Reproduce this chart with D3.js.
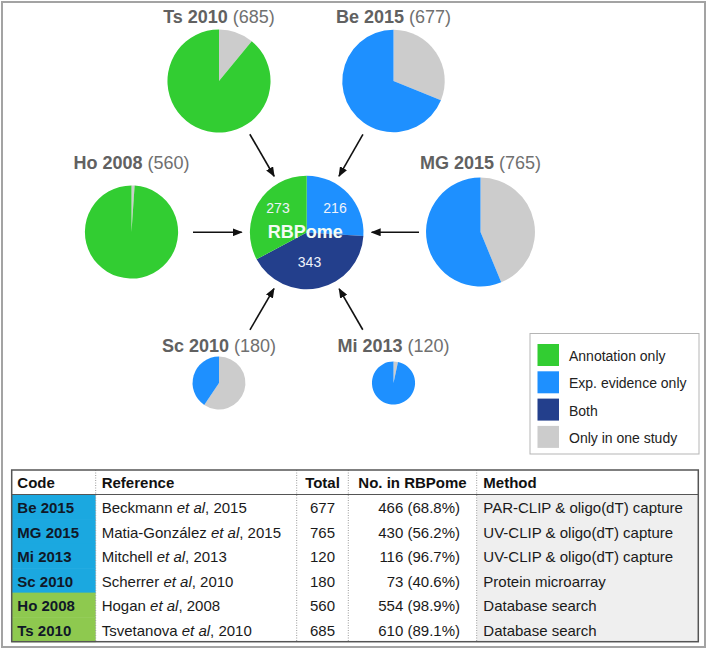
<!DOCTYPE html>
<html>
    <head>
        <meta charset="utf-8">
        <style>
            body { margin: 0; background: #fff; }
            svg { display: block; font-family: "Liberation Sans", Arial, sans-serif; }
        </style>
    </head>
    <body>
        <svg></svg>

        <script src="https://d3js.org/d3.v7.min.js"></script>

        <script>
            // study table data
            const codes = ["Be 2015", "MG 2015", "Mi 2013", "Sc 2010", "Ho 2008", "Ts 2010"];
            const authors = ["Beckmann", "Matia-González", "Mitchell", "Scherrer", "Hogan", "Tsvetanova"];
            const years = ["2015", "2015", "2013", "2010", "2008", "2010"];
            const totals = [677, 765, 120, 180, 560, 685];
            const inRBPome = [466, 430, 116, 73, 554, 610];
            const pctInRBPome = ["68.8", "56.2", "96.7", "40.6", "98.9", "89.1"];
            const methods = ["PAR-CLIP & oligo(dT) capture", "UV-CLIP & oligo(dT) capture",
                "UV-CLIP & oligo(dT) capture", "Protein microarray", "Database search", "Database search"];
            const evidence = ["exp", "exp", "exp", "exp", "annot", "annot"];

            // RBPome pie
            const hubCategories = ["Exp. evidence only", "Both", "Annotation only"];
            const hubCounts = [216, 343, 273];

            const legendLabels = ["Annotation only", "Exp. evidence only", "Both", "Only in one study"];
            const legendColors = ["#32cd32", "#1e90ff", "#233f8c", "#cccccc"];
            const headers = ["Code", "Reference", "Total", "No. in RBPome", "Method"];

            // layout (centre x, centre y, title baseline)
            const pieLayout = {
                "Ts 2010": [219, 81, 23],
                "Be 2015": [393.5, 81, 23],
                "Ho 2008": [131.5, 232, 169],
                "MG 2015": [480.5, 232, 169],
                "Sc 2010": [219, 383, 352],
                "Mi 2013": [393.5, 383, 352]
            };
            const hub = [306.7, 232.5];
            const hubLabelOffsets = [[28.3, -19.2], [2.8, 34.8], [-28.7, -19.2]];

            const width = 709, height = 650;
            const font = "'Liberation Sans', Arial, sans-serif";

            const svg = d3.select("svg")
                .attr("width", width)
                .attr("height", height);

            // outer frame
            svg.append("rect")
                .attr("x", 2).attr("y", 2)
                .attr("width", 703).attr("height", 645)
                .attr("fill", "none")
                .attr("stroke", "#a3a3a3")
                .attr("stroke-width", 2);

            const color = d3.scaleOrdinal(legendLabels, legendColors);
            const radius = d3.scaleSqrt()
                .domain([0, d3.sum(hubCounts)])
                .range([0, 56.8]);
            const pie = d3.pie().sort(null);

            // arrow marker
            svg.append("defs").append("marker")
                .attr("id", "head")
                .attr("viewBox", "0 0 10 8")
                .attr("refX", 9)
                .attr("refY", 4)
                .attr("markerUnits", "userSpaceOnUse")
                .attr("markerWidth", 10)
                .attr("markerHeight", 8)
                .attr("orient", "auto")
                .append("path")
                .attr("d", "M0,0 L10,4 L0,8 Z")
                .attr("fill", "#111");

            // arrows from each study to the hub
            codes.forEach(function(code) {
                const c = pieLayout[code];
                const dx = hub[0] - c[0], dy = hub[1] - c[1];
                const len = Math.sqrt(dx * dx + dy * dy);
                const ux = dx / len, uy = dy / len;
                svg.append("line")
                    .attr("x1", c[0] + ux * 61.5)
                    .attr("y1", c[1] + uy * 61.5)
                    .attr("x2", hub[0] - ux * 65)
                    .attr("y2", hub[1] - uy * 65)
                    .attr("stroke", "#111")
                    .attr("stroke-width", 1.6)
                    .attr("marker-end", "url(#head)");
            });

            // study pies
            const studies = codes.map(function(code, i) {
                return {
                    code: code,
                    total: totals[i],
                    values: [totals[i] - inRBPome[i], inRBPome[i]],
                    cats: ["Only in one study", evidence[i] === "annot" ? "Annotation only" : "Exp. evidence only"]
                };
            });

            const sg = svg.selectAll("g.study")
                .data(studies)
                .enter()
                .append("g")
                .attr("class", "study");

            sg.each(function(d) {
                const c = pieLayout[d.code];
                const g = d3.select(this);
                const arc = d3.arc().innerRadius(0).outerRadius(radius(d.total));
                g.append("g")
                    .attr("transform", "translate(" + c[0] + "," + c[1] + ")")
                    .selectAll("path")
                    .data(pie(d.values))
                    .enter()
                    .append("path")
                    .attr("d", arc)
                    .attr("fill", function(s, j) { return color(d.cats[j]); });

                const t = g.append("text")
                    .attr("x", c[0])
                    .attr("y", c[2])
                    .attr("text-anchor", "middle")
                    .attr("font-size", 18);
                t.append("tspan")
                    .attr("font-weight", "bold")
                    .attr("fill", "#616161")
                    .text(d.code);
                t.append("tspan")
                    .attr("fill", "#707070")
                    .text(" (" + d.total + ")");
            });

            // RBPome hub pie
            const hubArc = d3.arc().innerRadius(0).outerRadius(radius(d3.sum(hubCounts)));
            const hg = svg.append("g")
                .attr("transform", "translate(" + hub[0] + "," + hub[1] + ")");
            hg.selectAll("path")
                .data(pie(hubCounts))
                .enter()
                .append("path")
                .attr("d", hubArc)
                .attr("fill", function(d, i) { return color(hubCategories[i]); });
            hg.selectAll("text.count")
                .data(hubCounts)
                .enter()
                .append("text")
                .attr("class", "count")
                .attr("x", function(d, i) { return hubLabelOffsets[i][0]; })
                .attr("y", function(d, i) { return hubLabelOffsets[i][1]; })
                .attr("text-anchor", "middle")
                .attr("font-size", 14)
                .attr("fill", "#eef2fa")
                .text(function(d) { return d; });
            hg.append("text")
                .attr("x", -1.4)
                .attr("y", 5.8)
                .attr("text-anchor", "middle")
                .attr("font-size", 18)
                .attr("font-weight", "bold")
                .attr("fill", "#f4fbf4")
                .text("RBPome");

            // legend
            const lg = svg.append("g");
            lg.append("rect")
                .attr("x", 530).attr("y", 333.5)
                .attr("width", 169).attr("height", 120.5)
                .attr("fill", "#fff")
                .attr("stroke", "#b5b5b5")
                .attr("stroke-width", 1);
            const li = lg.selectAll("g.item")
                .data(legendLabels)
                .enter()
                .append("g")
                .attr("class", "item")
                .attr("transform", function(d, i) { return "translate(537.5," + (344 + i * 27.3) + ")"; });
            li.append("rect")
                .attr("width", 21.5)
                .attr("height", 22)
                .attr("fill", function(d) { return color(d); });
            li.append("text")
                .attr("x", 31.5)
                .attr("y", 17)
                .attr("font-size", 14)
                .attr("fill", "#222")
                .text(function(d) { return d; });

            // table
            const colEdges = [11.7, 95.7, 296.7, 348.3, 476.7, 698.3];
            const tableTop = 470, headBottom = 494.5, tableBottom = 641.7;
            const rowY = d3.scaleBand().domain(codes).range([headBottom, tableBottom]);
            const tg = svg.append("g").attr("font-size", 15);

            const rows = tg.selectAll("g.row")
                .data(codes)
                .enter()
                .append("g")
                .attr("class", "row")
                .attr("transform", function(d) { return "translate(0," + rowY(d) + ")"; });

            rows.append("rect")
                .attr("x", colEdges[0])
                .attr("width", colEdges[1] - colEdges[0])
                .attr("height", rowY.bandwidth() + 0.5)
                .attr("fill", function(d, i) { return evidence[i] === "exp" ? "#1ba8e0" : "#8ec94f"; });
            rows.append("rect")
                .attr("x", colEdges[4])
                .attr("width", colEdges[5] - colEdges[4])
                .attr("height", rowY.bandwidth() + 0.5)
                .attr("fill", "#efefef");

            const by = 18.8;
            rows.append("text")
                .attr("x", colEdges[0] + 5.6)
                .attr("y", by)
                .attr("font-weight", "bold")
                .attr("fill", "#101828")
                .text(function(d) { return d; });
            const ref = rows.append("text")
                .attr("x", colEdges[1] + 6)
                .attr("y", by)
                .attr("fill", "#1a1a1a");
            ref.append("tspan").text(function(d, i) { return authors[i] + " "; });
            ref.append("tspan").attr("font-style", "italic").text("et al");
            ref.append("tspan").text(function(d, i) { return ", " + years[i]; });
            rows.append("text")
                .attr("x", (colEdges[2] + colEdges[3]) / 2)
                .attr("y", by)
                .attr("text-anchor", "middle")
                .attr("fill", "#1a1a1a")
                .text(function(d, i) { return totals[i]; });
            rows.append("text")
                .attr("x", colEdges[4] - 16.7)
                .attr("y", by)
                .attr("text-anchor", "end")
                .attr("fill", "#1a1a1a")
                .text(function(d, i) { return inRBPome[i] + " (" + pctInRBPome[i] + "%)"; });
            rows.append("text")
                .attr("x", colEdges[4] + 6.6)
                .attr("y", by)
                .attr("fill", "#1a1a1a")
                .text(function(d, i) { return methods[i]; });

            // header
            const headX = [colEdges[0] + 5.6, colEdges[1] + 6, (colEdges[2] + colEdges[3]) / 2,
                (colEdges[3] + colEdges[4]) / 2, colEdges[4] + 6.6];
            const headAnchor = ["start", "start", "middle", "middle", "start"];
            tg.selectAll("text.head")
                .data(headers)
                .enter()
                .append("text")
                .attr("class", "head")
                .attr("x", function(d, i) { return headX[i]; })
                .attr("y", headBottom - 6.2)
                .attr("text-anchor", function(d, i) { return headAnchor[i]; })
                .attr("font-weight", "bold")
                .attr("fill", "#111")
                .text(function(d) { return d; });

            // dotted column separators
            tg.selectAll("line.sep")
                .data(colEdges.slice(1, 5))
                .enter()
                .append("line")
                .attr("class", "sep")
                .attr("x1", function(d) { return d; })
                .attr("x2", function(d) { return d; })
                .attr("y1", tableTop)
                .attr("y2", tableBottom)
                .attr("stroke", "#9a9a9a")
                .attr("stroke-width", 1)
                .attr("stroke-dasharray", "1,1.5");

            tg.append("line")
                .attr("x1", colEdges[0]).attr("x2", colEdges[5])
                .attr("y1", headBottom).attr("y2", headBottom)
                .attr("stroke", "#555")
                .attr("stroke-width", 1.2);
            tg.append("rect")
                .attr("x", colEdges[0]).attr("y", tableTop)
                .attr("width", colEdges[5] - colEdges[0])
                .attr("height", tableBottom - tableTop)
                .attr("fill", "none")
                .attr("stroke", "#555")
                .attr("stroke-width", 1.5);
        </script>
    </body>
</html>
